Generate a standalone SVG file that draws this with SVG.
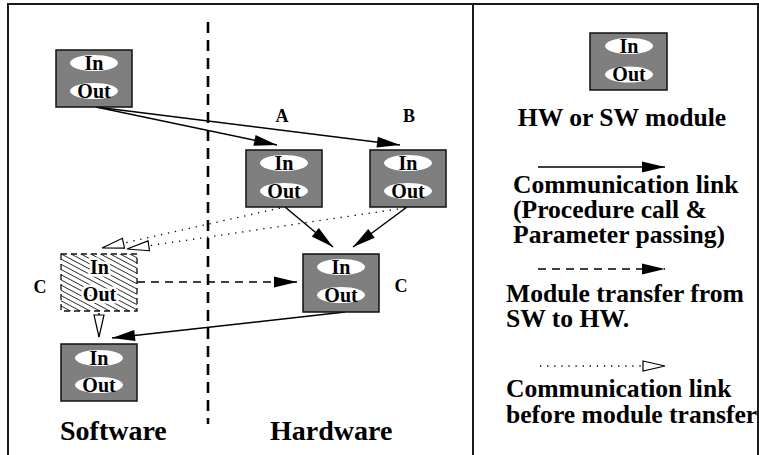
<svg xmlns="http://www.w3.org/2000/svg" width="759" height="455" viewBox="0 0 759 455">
  <style>
    .frame { fill: none; stroke: #1a1a1a; stroke-width: 2; }
    .box { fill: #7f7f7f; stroke: #111; stroke-width: 1.5; }
    .port { fill: #fff; stroke: none; }
    .port-t { font-family: "Liberation Serif", "Times New Roman", serif; font-weight: bold; font-size: 20px; text-anchor: middle; fill: #000; }
    .lbl { font-family: "Liberation Serif", "Times New Roman", serif; font-weight: bold; font-size: 18px; fill: #000; }
    .big { font-family: "Liberation Serif", "Times New Roman", serif; font-weight: bold; font-size: 28px; fill: #000; }
    .leg { font-family: "Liberation Serif", "Times New Roman", serif; font-weight: bold; font-size: 25.6px; fill: #000; }
    .link { fill: none; stroke: #000; stroke-width: 1.5; }
    .move { fill: none; stroke: #000; stroke-width: 1.5; stroke-dasharray: 8 6; }
    .pre { fill: none; stroke: #000; stroke-width: 1.3; stroke-dasharray: 1.3 5.8; }
    .split { fill: none; stroke: #000; stroke-width: 2.6; stroke-dasharray: 11 7; }
  </style>
  <defs>
    <marker id="solid" markerUnits="userSpaceOnUse" markerWidth="26" markerHeight="14" refX="23" refY="5.5" orient="auto" overflow="visible">
      <path d="M0,0 L23,5.5 L0,11 z" fill="#000"/>
    </marker>
    <marker id="hollow" markerUnits="userSpaceOnUse" markerWidth="26" markerHeight="14" refX="22" refY="5" orient="auto" overflow="visible">
      <path d="M0,0 L22,5 L0,10 z" fill="#fff" stroke="#000" stroke-width="1.2"/>
    </marker>
    <pattern id="hatch" patternUnits="userSpaceOnUse" width="10" height="4.6" patternTransform="rotate(28)">
      <line x1="0" y1="2.3" x2="10" y2="2.3" stroke="#222" stroke-width="0.9"/>
    </pattern>
  </defs>

  <!-- outer frame and panel divider -->
  <rect class="frame" x="8" y="4" width="750" height="460"/>
  <line class="frame" x1="473" y1="4" x2="473" y2="455"/>

  <!-- software / hardware boundary -->
  <line class="split" x1="208" y1="22" x2="208" y2="424"/>

  <!-- connectors -->
  <g id="connectors">
    <line class="link" x1="96" y1="107" x2="277" y2="145" marker-end="url(#solid)"/>
    <line class="link" x1="96" y1="107" x2="400" y2="145" marker-end="url(#solid)"/>
    <line class="link" x1="285" y1="207" x2="333" y2="247" marker-end="url(#solid)"/>
    <line class="link" x1="407" y1="207" x2="353" y2="247" marker-end="url(#solid)"/>
    <line class="link" x1="345" y1="312" x2="112" y2="338" marker-end="url(#solid)"/>
    <line class="move" x1="137" y1="282" x2="297" y2="282" marker-end="url(#solid)"/>
    <line class="pre" x1="280" y1="208" x2="102" y2="248" marker-end="url(#hollow)"/>
    <line class="pre" x1="405" y1="208" x2="127" y2="249" marker-end="url(#hollow)"/>
    <line class="link" x1="99" y1="313" x2="99" y2="337" marker-end="url(#hollow)"/>
  </g>

  <!-- module in software -->
  <g id="sw-module">
    <rect class="box" x="56" y="50" width="76" height="57"/>
    <ellipse class="port" cx="94" cy="63" rx="24" ry="8"/>
    <text class="port-t" x="94" y="69.5">In</text>
    <ellipse class="port" cx="94" cy="91" rx="24" ry="8"/>
    <text class="port-t" x="94" y="97.5">Out</text>
  </g>

  <!-- hardware module A -->
  <g id="hw-module-a">
    <rect class="box" x="246" y="150" width="76" height="57"/>
    <ellipse class="port" cx="284" cy="163" rx="24" ry="8"/>
    <text class="port-t" x="284" y="169.5">In</text>
    <ellipse class="port" cx="284" cy="191" rx="24" ry="8"/>
    <text class="port-t" x="284" y="197.5">Out</text>
    <text class="lbl" x="282" y="122" text-anchor="middle">A</text>
  </g>

  <!-- hardware module B -->
  <g id="hw-module-b">
    <rect class="box" x="370" y="150" width="76" height="57"/>
    <ellipse class="port" cx="408" cy="163" rx="24" ry="8"/>
    <text class="port-t" x="408" y="169.5">In</text>
    <ellipse class="port" cx="408" cy="191" rx="24" ry="8"/>
    <text class="port-t" x="408" y="197.5">Out</text>
    <text class="lbl" x="409" y="122" text-anchor="middle">B</text>
  </g>

  <!-- hardware module C (after transfer) -->
  <g id="hw-module-c">
    <rect class="box" x="303" y="254" width="76" height="58"/>
    <ellipse class="port" cx="341" cy="267" rx="24" ry="8"/>
    <text class="port-t" x="341" y="273.5">In</text>
    <ellipse class="port" cx="341" cy="295" rx="24" ry="8"/>
    <text class="port-t" x="341" y="301.5">Out</text>
    <text class="lbl" x="401" y="292" text-anchor="middle">C</text>
  </g>

  <!-- module C before transfer (hatched, dashed border) -->
  <g id="sw-module-c">
    <rect x="61" y="254" width="76" height="57" fill="url(#hatch)" stroke="#111" stroke-width="1.3" stroke-dasharray="6 4"/>
    <text class="port-t" x="99.5" y="274" stroke="#fff" stroke-width="5" paint-order="stroke" stroke-linejoin="round">In</text>
    <text class="port-t" x="99.5" y="301" stroke="#fff" stroke-width="5" paint-order="stroke" stroke-linejoin="round">Out</text>
    <text class="lbl" x="40" y="293" text-anchor="middle">C</text>
  </g>

  <!-- software module D -->
  <g id="sw-module-d">
    <rect class="box" x="61" y="344" width="76" height="57"/>
    <ellipse class="port" cx="99" cy="358" rx="24" ry="8"/>
    <text class="port-t" x="99" y="364.5">In</text>
    <ellipse class="port" cx="99" cy="385" rx="24" ry="8"/>
    <text class="port-t" x="99" y="391.5">Out</text>
  </g>

  <!-- domain captions -->
  <text class="big" x="60" y="440">Software</text>
  <text class="big" x="270" y="440">Hardware</text>

  <!-- legend -->
  <g id="legend">
    <rect class="box" x="590" y="33" width="77" height="57"/>
    <ellipse class="port" cx="629" cy="46" rx="24" ry="8"/>
    <text class="port-t" x="629" y="52.5">In</text>
    <ellipse class="port" cx="629" cy="74.5" rx="24" ry="8"/>
    <text class="port-t" x="629" y="81">Out</text>
    <text class="leg" x="622" y="126" text-anchor="middle">HW or SW module</text>

    <line class="link" x1="538" y1="167" x2="665" y2="167" marker-end="url(#solid)"/>
    <text class="leg" x="513" y="193">Communication link</text>
    <text class="leg" x="513" y="218">(Procedure call &amp;</text>
    <text class="leg" x="513" y="243">Parameter passing)</text>

    <line class="move" x1="538" y1="269" x2="665" y2="269" marker-end="url(#solid)"/>
    <text class="leg" x="506" y="302">Module transfer from</text>
    <text class="leg" x="506" y="327">SW to HW.</text>

    <line class="pre" x1="540" y1="366" x2="665" y2="366" marker-end="url(#hollow)"/>
    <text class="leg" x="506" y="397">Communication link</text>
    <text class="leg" x="506" y="423">before module transfer</text>
  </g>
</svg>
